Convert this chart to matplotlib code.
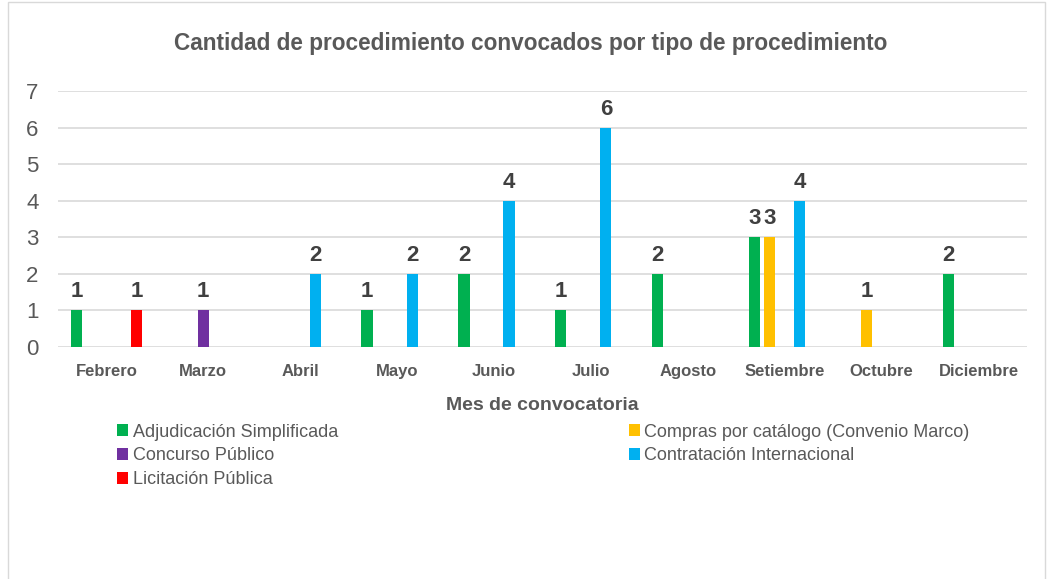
import numpy as np
import matplotlib
matplotlib.use('Agg')
import matplotlib.pyplot as plt
from matplotlib.patches import Rectangle

plt.rcParams['font.family'] = ['Liberation Sans Narrow', 'Liberation Sans', 'DejaVu Sans']

months = ['Febrero', 'Marzo', 'Abril', 'Mayo', 'Junio', 'Julio', 'Agosto',
          'Setiembre', 'Octubre', 'Diciembre']
adjudicacion = [1, 0, 0, 1, 2, 1, 2, 3, 0, 2]
compras = [0, 0, 0, 0, 0, 0, 0, 3, 1, 0]
concurso = [0, 1, 0, 0, 0, 0, 0, 0, 0, 0]
contratacion = [0, 0, 2, 2, 4, 6, 0, 4, 0, 0]
licitacion = [1, 0, 0, 0, 0, 0, 0, 0, 0, 0]

series = [
    ('Adjudicación Simplificada', adjudicacion, '#00B050'),
    ('Compras por catálogo (Convenio Marco)', compras, '#FFC000'),
    ('Concurso Público', concurso, '#7030A0'),
    ('Contratación Internacional', contratacion, '#00B0F0'),
    ('Licitación Pública', licitacion, '#FF0000'),
]

txt = '#595959'
fig = plt.figure(figsize=(10.5, 5.79), dpi=100)
ax = fig.add_axes([0.0552, 0.4007, 0.9228, 0.4421])

x = np.arange(len(months))
slot = 0.155
width = 0.115
handles = {}
for i, (name, vals, col) in enumerate(series):
    vals = np.array(vals, dtype=float)
    pos = x + (i - 2) * slot
    mask = vals > 0
    bars = ax.bar(pos[mask], vals[mask], width, color=col, label=name, zorder=3)
    handles[name] = bars
    for p, v in zip(pos[mask], vals[mask]):
        ax.text(p, v + 0.22, '%d' % v, ha='center', va='bottom', fontsize=16,
                fontweight='bold', color='#404040')

ax.set_ylim(0, 7)
ax.set_xlim(-0.5, len(months) - 0.5)
ax.set_yticks(range(8))
ax.yaxis.grid(True, color='#D9D9D9', linewidth=1.2, zorder=0)
ax.set_axisbelow(True)
for s in ax.spines.values():
    s.set_visible(False)
ax.tick_params(axis='both', length=0)
ax.tick_params(axis='y', labelsize=16, labelcolor=txt, pad=14)
ax.set_xticks(x)
ax.set_xticklabels(months, fontsize=12, fontweight='bold', color=txt)
ax.tick_params(axis='x', pad=12)
ax.set_xlabel('Mes de convocatoria', fontsize=14, fontweight='bold', color=txt, labelpad=13)

fig.text(0.505, 0.925, 'Cantidad de procedimiento convocados por tipo de procedimiento',
         ha='center', va='center', fontsize=16.3, fontweight='bold', color=txt)

order = ['Adjudicación Simplificada', 'Concurso Público', 'Licitación Pública',
         'Compras por catálogo (Convenio Marco)', 'Contratación Internacional']
leg = fig.legend([handles[n] for n in order], order, loc='upper left',
                 bbox_to_anchor=(0.105, 0.281), ncol=2, frameon=False,
                 fontsize=13, handlelength=0.6, handleheight=0.6, handletextpad=0.25,
                 columnspacing=16.1, labelspacing=0.38, borderaxespad=0)
for t in leg.get_texts():
    t.set_color(txt)

fig.patches.append(Rectangle((8 / 1050, -0.01), 1037 / 1050, 1.0 - 2 / 579 + 0.01,
                             transform=fig.transFigure, fill=False,
                             edgecolor='#D9D9D9', linewidth=1))

plt.savefig('out.png', dpi=100)
